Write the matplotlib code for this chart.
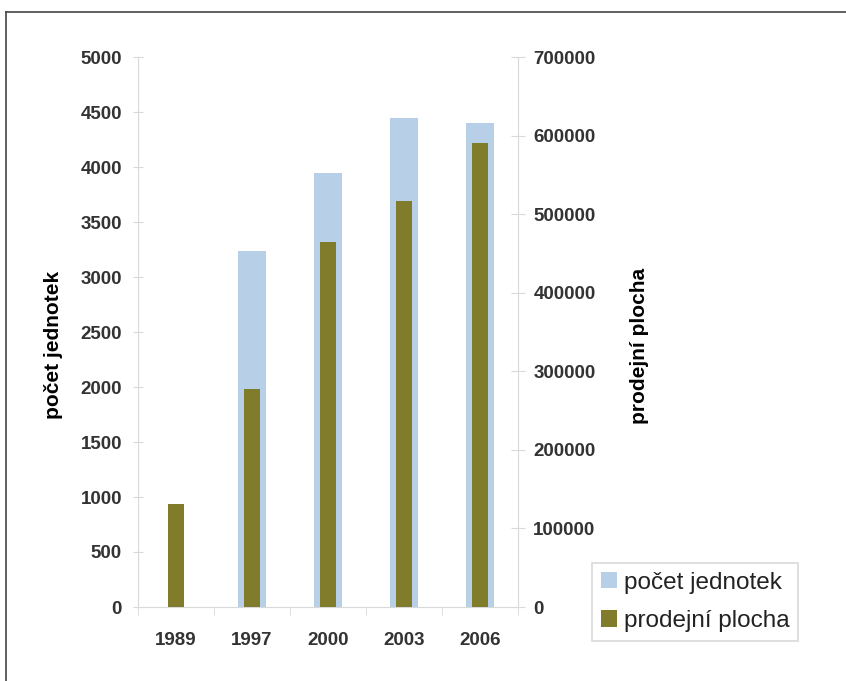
import matplotlib
matplotlib.use("Agg")
import matplotlib.pyplot as plt
from matplotlib.lines import Line2D
from matplotlib.patches import Patch

years = ["1989", "1997", "2000", "2003", "2006"]
units = [0, 3240, 3950, 4450, 4400]            # počet jednotek (left axis)
area = [131000, 278000, 465000, 517000, 590000]  # prodejní plocha (right axis)

blue = "#B8CFE8"
olive = "#807C2C"
spine = "#D9D9D9"
txt = "#333333"
font = "Liberation Sans"

fig = plt.figure(figsize=(8.46, 6.81), dpi=100)
ax = fig.add_axes([138/846, 1-607/681, (518-138)/846, (607-57)/681])
ax2 = ax.twinx()

x = list(range(len(years)))
ax.bar(x, units, width=0.38, color=blue, zorder=2)
ax2.bar(x, area, width=0.21, color=olive, zorder=3)

ax.set_xlim(-0.5, 4.5)
ax.set_ylim(0, 5000)
ax2.set_ylim(0, 700000)
ax.set_yticks(range(0, 5001, 500))
ax2.set_yticks(range(0, 700001, 100000))
ax.set_xticks(x)
ax.set_xticklabels(years)
ax.set_xticks([i - 0.5 for i in range(6)], minor=True)
ax.tick_params(axis="x", which="major", length=0, pad=18)
ax.tick_params(axis="x", which="minor", length=6, color=spine, direction="out")

for a in (ax, ax2):
    for s in a.spines.values():
        s.set_color(spine)
    a.spines["top"].set_visible(False)
ax.spines["right"].set_visible(False)
ax2.spines["bottom"].set_visible(False)
ax2.spines["left"].set_visible(False)

ax.tick_params(axis="y", length=7, color=spine, direction="inout", pad=8)
ax2.tick_params(axis="y", length=10, color=spine, direction="inout", pad=6)
for lab in ax.get_yticklabels() + ax.get_xticklabels() + ax2.get_yticklabels():
    lab.set_fontfamily(font)
    lab.set_fontsize(13.5)
    lab.set_fontweight("bold")
    lab.set_color(txt)

ax.set_ylabel("počet jednotek", fontfamily=font, fontsize=15,
              fontweight="bold", color="black")
ax2.set_ylabel("prodejní plocha", fontfamily=font, fontsize=15,
               fontweight="bold", color="black")
ax.yaxis.set_label_coords((63 - 138) / 380, (607 - 345) / 550)
ax2.yaxis.set_label_coords((630 - 138) / 380, (607 - 346) / 550)

handles = [Patch(facecolor=blue, label="počet jednotek"),
           Patch(facecolor=olive, label="prodejní plocha")]
leg = fig.legend(handles=handles, loc="upper left",
                 bbox_to_anchor=(592/846, 1-563/681), frameon=True,
                 fancybox=False, edgecolor="#D0D0D0",
                 prop={"family": font, "size": 17.5},
                 handlelength=0.66, handleheight=0.66, handletextpad=0.3,
                 labelspacing=0.68, borderpad=0.35, borderaxespad=0)
leg.get_frame().set_linewidth(1.2)
for t in leg.get_texts():
    t.set_color("#222222")

fig.add_artist(Line2D([6/846, 6/846], [0, 1-12/681], color="#444444", lw=1.2,
                      transform=fig.transFigure))
fig.add_artist(Line2D([6/846, 1], [1-12/681, 1-12/681], color="#444444", lw=1.2,
                      transform=fig.transFigure))

fig.savefig("out.png", dpi=100)
